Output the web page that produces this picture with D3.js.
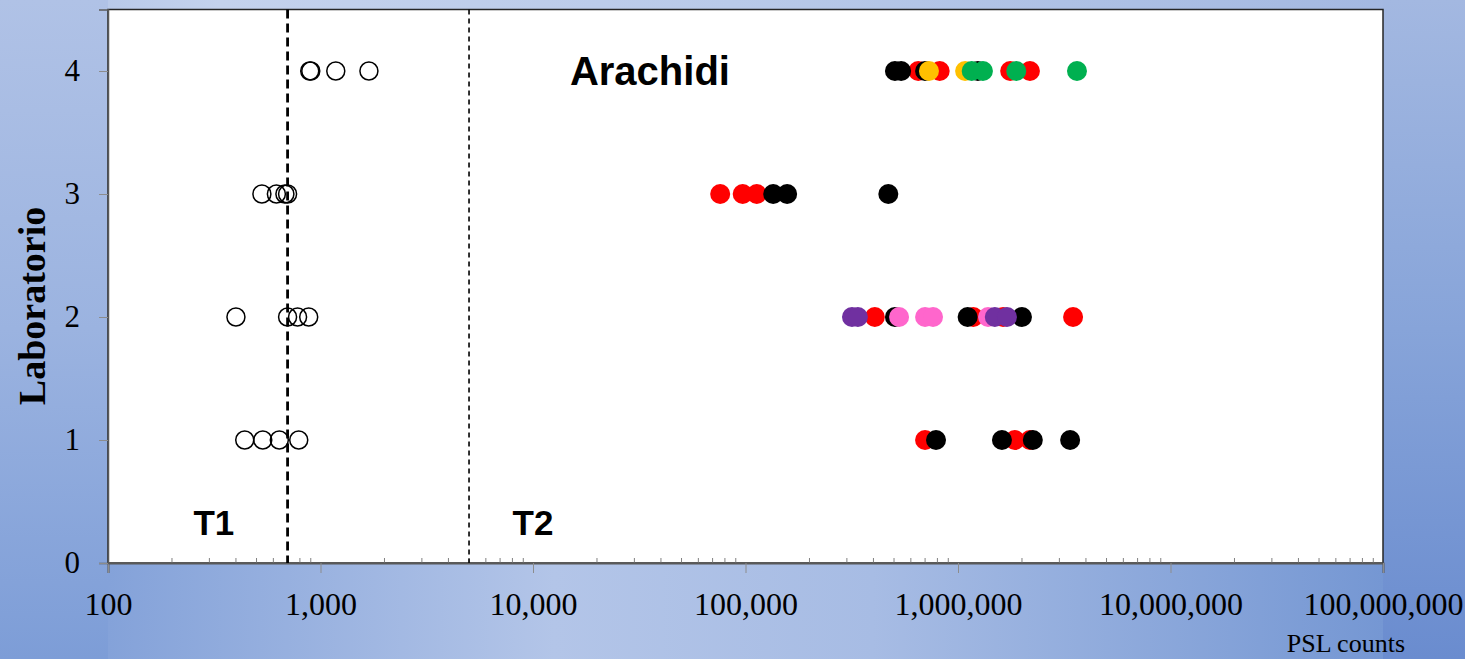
<!DOCTYPE html>
<html>
<head>
<meta charset="utf-8">
<script src="https://cdn.jsdelivr.net/npm/d3@7"></script>
<style>
  html, body { margin: 0; padding: 0; overflow: hidden; }
  svg { display: block; }
</style>
</head>
<body>
<div id="chart_area"></div>
<script>
// data: [laboratorio, PSL counts]
var yTicks = [0, 1, 2, 3, 4];
var xTicks = [100, 1000, 10000, 100000, 1000000, 10000000, 100000000];
var thresholds = [700, 5000];   // T1, T2

var openPts = [
    [4, 890], [4, 900], [4, 1180], [4, 1690],
    [3, 530], [3, 620], [3, 680], [3, 700],
    [2, 400], [2, 700], [2, 780], [2, 880],
    [1, 440], [1, 535], [1, 640], [1, 790]
];
var redPts = [
    [4, 650000], [4, 820000], [4, 1760000], [4, 2180000],
    [3, 76000], [3, 97000], [3, 113000],
    [2, 406000], [2, 1180000], [2, 1630000], [2, 3480000],
    [1, 700000], [1, 1850000], [1, 2180000]
];
var blackPts = [
    [4, 505000], [4, 540000], [4, 700000], [4, 1240000],
    [3, 135000], [3, 157000], [3, 470000],
    [2, 505000], [2, 1110000], [2, 2000000],
    [1, 788000], [1, 1610000], [1, 2250000], [1, 3370000]
];
var yellowPts = [[4, 730000], [4, 1080000]];
var pinkPts = [[2, 528000], [2, 700000], [2, 763000], [2, 1385000]];
var purplePts = [[2, 317000], [2, 338000], [2, 1490000], [2, 1700000]];
var greenPts = [[4, 1160000], [4, 1310000], [4, 1880000], [4, 3630000]];

var W = 1465, H = 659;
var svg = d3.select("#chart_area")
    .append("svg")
    .attr("width", W)
    .attr("height", H);

var x = d3.scaleLog().domain([100, 1e8]).range([108, 1383]);
var y = d3.scaleLinear().domain([0, 4.5]).range([563, 9.5]);

// background gradients (pieces round the plot)
var defs = svg.append("defs");
function grad(id, x2, y2, stops) {
    var g = defs.append("linearGradient").attr("id", id)
        .attr("x1", 0).attr("y1", 0).attr("x2", x2).attr("y2", y2);
    stops.forEach(function(s) {
        g.append("stop").attr("offset", s[0]).attr("stop-color", s[1]);
    });
}
grad("gTop", 1, 0, [[0, "#aec1e5"], [0.15, "#c4d2ed"], [0.5, "#b9cae9"], [1, "#a1b6e0"]]);
grad("gLeft", 0, 1, [[0, "#b0c2e6"], [0.5, "#9bb3e0"], [1, "#7d9dd7"]]);
grad("gBottom", 1, 0, [[0, "#84a2d9"], [0.35, "#b3c5e8"], [0.6, "#a7bce4"], [1, "#7597d3"]]);
grad("gRight", 0, 1, [[0, "#a3b8e1"], [0.5, "#87a4d9"], [1, "#6a8ccf"]]);

svg.append("rect").attr("width", W).attr("height", H).attr("fill", "url(#gTop)");
svg.append("rect").attr("x", 0).attr("y", 0).attr("width", 108).attr("height", H).attr("fill", "url(#gLeft)");
svg.append("rect").attr("x", 108).attr("y", 563).attr("width", 1383 - 108).attr("height", H - 563).attr("fill", "url(#gBottom)");
svg.append("rect").attr("x", 1383).attr("y", 0).attr("width", W - 1383).attr("height", H).attr("fill", "url(#gRight)");

// plot area
svg.append("rect")
    .attr("x", x.range()[0]).attr("y", y(4.5))
    .attr("width", x.range()[1] - x.range()[0])
    .attr("height", y(0) - y(4.5))
    .attr("fill", "white")
    .attr("stroke", "#262626")
    .attr("stroke-width", 1.5);

// minor ticks (inside)
var minor = [];
xTicks.slice(0, -1).forEach(function(d) {
    for (var k = 2; k <= 9; k++) minor.push(d * k);
});
svg.append("g").selectAll("line").data(minor).enter().append("line")
    .attr("x1", function(d) { return x(d); })
    .attr("x2", function(d) { return x(d); })
    .attr("y1", y(0)).attr("y2", y(0) - 5)
    .attr("stroke", "#808080").attr("stroke-width", 1);

// x axis
var xAxis = svg.append("g")
    .attr("transform", "translate(0," + y(0) + ")")
    .call(d3.axisBottom(x).tickValues(xTicks).tickSize(10).tickPadding(19)
        .tickFormat(d3.format(",")));
xAxis.select(".domain").attr("stroke", "#595959").attr("stroke-width", 2);
xAxis.selectAll(".tick line").attr("stroke", "#8c8c8c");
xAxis.selectAll("text")
    .attr("font-family", "'Liberation Serif', 'Times New Roman', serif")
    .attr("font-size", 32).attr("fill", "black");

// y axis
var yAxis = svg.append("g")
    .attr("transform", "translate(" + x.range()[0] + ",0)")
    .call(d3.axisLeft(y).tickValues(yTicks).tickSize(9).tickPadding(19)
        .tickFormat(d3.format("d")));
yAxis.select(".domain").attr("stroke", "#595959").attr("stroke-width", 1.5);
yAxis.selectAll(".tick line").attr("stroke", "#8c8c8c");
yAxis.selectAll("text")
    .attr("font-family", "'Liberation Serif', 'Times New Roman', serif")
    .attr("font-size", 31).attr("fill", "black");

// threshold lines
svg.append("line")
    .attr("x1", x(thresholds[0])).attr("x2", x(thresholds[0]))
    .attr("y1", y(4.5)).attr("y2", y(0))
    .attr("stroke", "black").attr("stroke-width", 2.8)
    .attr("stroke-dasharray", "9,5");
svg.append("line")
    .attr("x1", x(thresholds[1])).attr("x2", x(thresholds[1]))
    .attr("y1", y(4.5)).attr("y2", y(0))
    .attr("stroke", "black").attr("stroke-width", 1.6)
    .attr("stroke-dasharray", "5,4");

// open circles
svg.append("g").selectAll("circle").data(openPts).enter().append("circle")
    .attr("cx", function(d) { return x(d[1]); })
    .attr("cy", function(d) { return y(d[0]); })
    .attr("r", 9)
    .attr("fill", "none")
    .attr("stroke", "black")
    .attr("stroke-width", 1.5);

// filled series, drawn in this order
var series = [
    { pts: redPts, color: "#ff0000" },
    { pts: blackPts, color: "#000000" },
    { pts: yellowPts, color: "#ffc000" },
    { pts: pinkPts, color: "#ff66cc" },
    { pts: purplePts, color: "#7030a0" },
    { pts: greenPts, color: "#00b050" }
];
series.forEach(function(s) {
    svg.append("g").selectAll("circle").data(s.pts).enter().append("circle")
        .attr("cx", function(d) { return x(d[1]); })
        .attr("cy", function(d) { return y(d[0]); })
        .attr("r", 10)
        .attr("fill", s.color);
});

// labels
svg.append("text")
    .attr("x", x(35500)).attr("y", y(4) + 14)
    .attr("text-anchor", "middle")
    .attr("font-family", "'Liberation Sans', Arial, sans-serif")
    .attr("font-weight", "bold").attr("font-size", 40)
    .text("Arachidi");
svg.append("text")
    .attr("x", x(315)).attr("y", 535)
    .attr("text-anchor", "middle")
    .attr("font-family", "'Liberation Sans', Arial, sans-serif")
    .attr("font-weight", "bold").attr("font-size", 35)
    .text("T1");
svg.append("text")
    .attr("x", x(10000)).attr("y", 535)
    .attr("text-anchor", "middle")
    .attr("font-family", "'Liberation Sans', Arial, sans-serif")
    .attr("font-weight", "bold").attr("font-size", 35)
    .text("T2");

svg.append("text")
    .attr("transform", "translate(45," + 306 + ") rotate(-90)")
    .attr("text-anchor", "middle")
    .attr("font-family", "'Liberation Serif', 'Times New Roman', serif")
    .attr("font-weight", "bold").attr("font-size", 38)
    .text("Laboratorio");

svg.append("text")
    .attr("x", 1405).attr("y", 652)
    .attr("text-anchor", "end")
    .attr("font-family", "'Liberation Serif', 'Times New Roman', serif")
    .attr("font-size", 26)
    .text("PSL counts");
</script>
</body>
</html>
